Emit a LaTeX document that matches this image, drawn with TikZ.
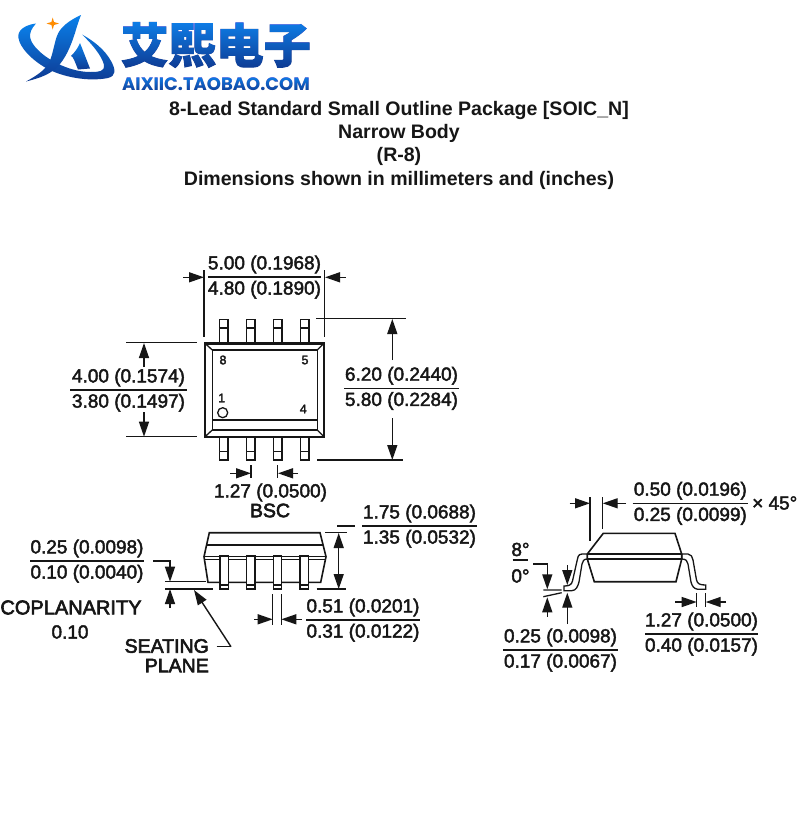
\documentclass[tikz,border=0pt]{standalone}
\usepackage{fontspec}
\usetikzlibrary{arrows.meta}
\setmainfont{Liberation Sans}
\newfontfamily\dimf[FakeBold=2.2]{Liberation Sans}
\newfontfamily\labf[FakeBold=3]{Liberation Sans}
\newfontfamily\cjkf[FakeBold=2]{Noto Sans CJK SC}
\newfontfamily\logof{Poppins}
\definecolor{ink}{HTML}{161616}
\definecolor{logotop}{HTML}{0A80EA}
\definecolor{logobot}{HTML}{0E3A92}
\tikzset{
  dimtext/.style={inner sep=0pt,text=ink,font=\dimf\fontsize{19}{21}\selectfont},
  boldtext/.style={inner sep=0pt,text=ink,font=\labf\fontsize{19.5}{21}\selectfont},
  titletext/.style={inner sep=0pt,text=ink,font=\bfseries\fontsize{19.55}{21}\selectfont},
  pin/.style={inner sep=0pt,text=ink,font=\dimf\fontsize{12.5}{14}\selectfont},
  thin line/.style={draw=ink,line width=1.3pt},
  thick line/.style={draw=ink,line width=2.4pt},
  frac line/.style={draw=ink,line width=1.4pt},
  dim arrow/.style={draw=ink,line width=1.4pt,-{Triangle[length=15pt,width=10pt]}},
  lead/.style={draw=ink,fill=white,line width=1.3pt},
  logoshape/.style={top color=logotop,bottom color=logobot,draw=none},
}
\newcommand{\fracdim}[6]{%
  \draw[frac line] (#2,#4) -- (#3,#4);
  \node[dimtext] (#1t) at ({(#2+#3)/2},{#4-12.5}) {#5};
  \node[dimtext] (#1b) at ({(#2+#3)/2},{#4+12.7}) {#6};
}
\begin{document}
\begin{tikzpicture}[x=1pt,y=-1pt]
\useasboundingbox (0,0) rectangle (800,820);
\fill[white] (0,0) rectangle (800,820);
% logo shapes
\shade[logoshape] (36,23.5) .. controls (24,25) and (17,31) .. (18.5,38) .. controls (20,48) and (32,60) .. (46,68) .. controls (62,77) and (88,82) .. (108,78) .. controls (116,76) and (116,70) .. (111,61) .. controls (105,50) and (94,41) .. (82,34.5) .. controls (92,44) and (102,56) .. (104,65) .. controls (105,71) and (100,72) .. (90,72) .. controls (72,72) and (50,62) .. (38,50) .. controls (30,42) and (26,34) .. cycle;
\shade[logoshape] (81,15) .. controls (70,20) and (60,27) .. (57,36) .. controls (54,44) and (53,54) .. (49,63) .. controls (44,71) and (36,76) .. (26,81.5) .. controls (40,78) and (52,74) .. (60,64) .. controls (68,54) and (72,42) .. (75,33) .. controls (77,26) and (79,20) .. cycle;
\shade[logoshape] (80,43) -- (90,68.5) -- (78,69.5) .. controls (75,62) and (73,56) .. (71,56) .. controls (75,52) and (78,48) .. cycle;
\fill[orange!90!yellow] (52.7,17.5) -- (54,22) -- (59,23.5) -- (54,25) -- (52.7,29.5) -- (51.4,25) -- (46.5,23.5) -- (51.4,22) -- cycle;
% logo text
\node[inner sep=0pt,anchor=center,text=logobot,font=\cjkf\bfseries\fontsize{47.5}{50}\selectfont] (brand) at (216,45) {艾熙电子};
\node[inner sep=0pt,anchor=center,text=logobot,font=\logof\bfseries\fontsize{18}{20}\selectfont] (shop) at (216,84) {AIXIIC.TAOBAO.COM};
\shade[blend mode=lighten,top color=logotop,bottom color=logobot,draw=none] (118,20) rectangle (315,69);
\shade[blend mode=lighten,top color=logotop,bottom color=logobot,draw=none] (118,76) rectangle (315,92);
% title
\node[titletext] (t1) at (399,110.5) {8-Lead Standard Small Outline Package [SOIC\_N]};
\node[titletext] (t2) at (399,133.5) {Narrow Body};
\node[titletext] (t3) at (399,156.5) {(R-8)};
\node[titletext] (t4) at (399,180) {Dimensions shown in millimeters and (inches)};
% top view leads
\foreach \x in {219.5,246.5,273.5,300.5}{
  \draw[lead] (\x,319.3) rectangle (\x+8.5,343);
  \draw[lead] (\x,328) -- (\x+8.5,328);
  \draw[lead] (\x,437) rectangle (\x+8.5,460);
  \draw[lead] (\x,451.7) -- (\x+8.5,451.7);
}
% top view body
\draw[thick line,fill=white] (205,343.3) rectangle (324,436.7);
\draw[thin line] (212.3,350) rectangle (317.3,430);
\draw[thin line] (212.3,420) -- (317.3,420);
\draw[thin line] (205,343.3) -- (212.3,350) (324,343.3) -- (317.3,350) (205,436.7) -- (212.3,430) (324,436.7) -- (317.3,430);
\node[pin] (p8) at (223,360) {8};
\node[pin] (p5) at (305,360) {5};
\node[pin] (p1) at (221.7,398) {1};
\node[pin] (p4) at (303.3,409) {4};
\draw[thin line] (222.7,412.7) circle (5);
% 5.00 dim
\draw[thin line] (204,270) -- (204,337) (324.3,270) -- (324.3,337);
\draw[dim arrow] (183,277.3) -- (204,277.3);
\draw[dim arrow] (345.7,277.3) -- (325,277.3);
\fracdim{a}{208}{321}{277}{5.00 (0.1968)}{4.80 (0.1890)}
% 6.20 dim
\draw[thin line] (316,318.7) -- (406,318.7) (317.3,460) -- (403,460);
\draw[dim arrow] (392.3,360) -- (392.3,319);
\draw[dim arrow] (392.3,418) -- (392.3,460);
\fracdim{b}{344}{459}{388.3}{6.20 (0.2440)}{5.80 (0.2284)}
% 4.00 dim
\draw[thin line] (126,342.7) -- (197,342.7) (126,436.7) -- (197,436.7);
\draw[dim arrow] (144,367) -- (144,343);
\draw[dim arrow] (144,412) -- (144,436.7);
\fracdim{c}{70}{187}{390}{4.00 (0.1574)}{3.80 (0.1497)}
% pitch
\draw[thin line] (251,465) -- (251,478) (277.7,465) -- (277.7,478);
\draw[dim arrow] (230,473.3) -- (251,473.3);
\draw[dim arrow] (298,473.3) -- (278,473.3);
\node[dimtext] (pitch) at (270.5,492.5) {1.27 (0.0500)};
\node[boldtext] (bsc) at (270,510.5) {BSC};
% side view body
\draw[lead,line width=1.6pt] (209.3,532.7) -- (320,532.7) -- (326,556.7) -- (320.7,582.3) -- (208,582.3) -- (204,556.7) -- cycle;
\draw[thin line] (206,545) -- (323,545);
\draw[thin line] (204,556.7) -- (326,556.7);
\draw[thin line] (204.5,559.5) -- (325.5,559.5);
\foreach \x in {220,246.7,273.3,300}{
  \draw[lead] (\x,556) rectangle (\x+8.4,589);
  \draw[lead] (\x,585) -- (\x+8.4,585);
}
% height dim
\draw[thin line] (325,532.7) -- (346.7,532.7) (316.7,589) -- (346,589) (337,526) -- (355,526);
\draw[dim arrow] (338.7,555) -- (338.7,533);
\draw[dim arrow] (338.7,555) -- (338.7,589);
\fracdim{d}{362}{477}{526}{1.75 (0.0688)}{1.35 (0.0532)}
% lead width
\draw[thin line] (272.7,594) -- (272.7,625) (281.3,594) -- (281.3,625);
\draw[dim arrow] (254,619.3) -- (272.7,619.3);
\draw[dim arrow] (302,619.3) -- (281.3,619.3);
\fracdim{e}{306}{420}{620}{0.51 (0.0201)}{0.31 (0.0122)}
% coplanarity
\fracdim{f}{30}{144}{561}{0.25 (0.0098)}{0.10 (0.0040)}
\draw[thin line] (153,561) -- (170,561) -- (170,570);
\draw[dim arrow] (170,562) -- (170,581.7);
\draw[dim arrow] (170,608) -- (170,589);
\draw[thin line] (165,581.7) -- (205.7,581.7);
\draw[thick line,line width=1.6pt] (165,588.7) -- (213,588.7);
\node[boldtext,font=\labf\fontsize{20}{22}\selectfont] (cop) at (71,607.5) {COPLANARITY};
\node[dimtext] (cop2) at (70,632) {0.10};
\node[boldtext,anchor=east] (seat1) at (209,646) {SEATING};
\node[boldtext,anchor=east] (seat2) at (209,665.5) {PLANE};
\coordinate (sbend) at (231,646.7);
\coordinate (stip) at (194,590);
\draw[thin line] (216.7,646.7) -- (sbend);
\draw[dim arrow] (sbend) -- (stip);
% end view leads
\draw[lead] (587.3,554) -- (582,554) .. controls (578,554) and (577.5,558) .. (577,561) -- (572.5,581) .. controls (571.5,585) and (569,586) .. (564,586) -- (564,590.7) -- (571.7,590.7) .. controls (576,590.7) and (578,586) .. (579,582) -- (582,564) .. controls (582.5,561) and (584,559) .. (587.3,559) -- cycle;
\draw[lead] (681.7,554) -- (688,554) .. controls (691,554) and (692.5,557) .. (693,560) -- (696.5,580) .. controls (697.5,584) and (700,585) .. (705.7,585) -- (705.7,589.3) -- (698,589.3) .. controls (694,589) and (692,586) .. (691,582) -- (688,564) .. controls (687.5,561) and (686,559) .. (681.7,559) -- cycle;
% end view body
\draw[lead,line width=1.6pt] (603.3,533.3) -- (675,533.3) -- (681.7,554) -- (681.7,559) -- (676,581.7) -- (594.3,581.7) -- (587.3,559) -- (587.3,554) -- cycle;
\draw[thin line] (587.3,554) -- (681.7,554);
\draw[thin line] (587.3,559) -- (681.7,559);
% 0.50 dim
\draw[thin line] (590,497.3) -- (590,540.7) (602.7,497.3) -- (602.7,529.3);
\draw[dim arrow] (569.7,503.3) -- (590,503.3);
\draw[dim arrow] (626,503.3) -- (602.7,503.3);
\fracdim{g}{632.7}{748}{503.3}{0.50 (0.0196)}{0.25 (0.0099)}
\node[dimtext,anchor=west] (mul) at (752,503) {× 45°};
% angle
\draw[frac line] (512.7,560) -- (528.3,560);
\node[dimtext] (angt) at (520.5,549.5) {8°};
\node[dimtext] (angb) at (520.5,576) {0°};
\draw[thin line] (533.3,564) -- (547.3,564) -- (547.3,572);
\draw[dim arrow] (547.3,565) -- (547.3,589.3);
\draw[dim arrow] (547.3,616.7) -- (547.3,597.3);
\draw[thin line] (543.3,590) -- (561.7,590) (543.3,596.7) -- (561.7,592.7);
% lead thickness
\draw[dim arrow] (567.3,565) -- (567.3,585);
\draw[dim arrow] (567.3,624) -- (567.3,592.7);
\fracdim{i}{503}{618}{650}{0.25 (0.0098)}{0.17 (0.0067)}
% foot length
\draw[thin line] (696.7,593.3) -- (696.7,607.3) (705.7,593.3) -- (705.7,607.3);
\draw[dim arrow] (675,602) -- (696.7,602);
\draw[dim arrow] (726,602) -- (705.7,602);
\fracdim{j}{645}{758}{634}{1.27 (0.0500)}{0.40 (0.0157)}
\end{tikzpicture}
\end{document}
